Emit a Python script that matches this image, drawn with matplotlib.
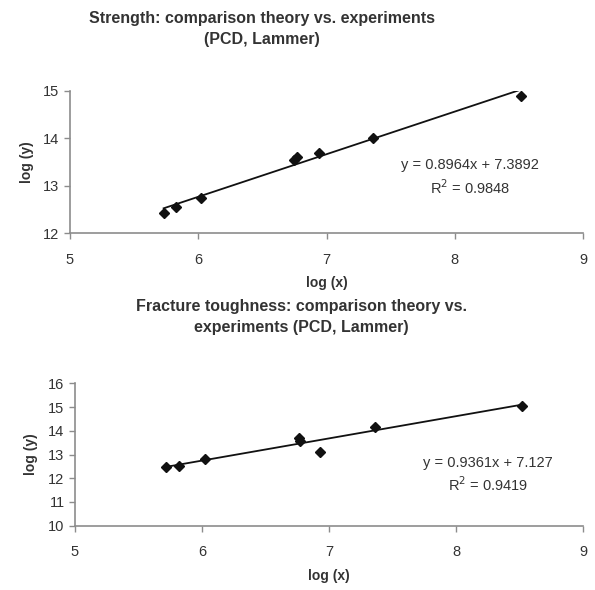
import numpy as np
import matplotlib
matplotlib.use("Agg")
import matplotlib.pyplot as plt

plt.rcParams['font.family'] = ['Liberation Sans', 'DejaVu Sans']

# strength data (log-log)
strength_x = [5.73, 5.83, 6.02, 6.75, 6.77, 6.94, 7.36, 8.52]
strength_y = [12.42, 12.56, 12.75, 13.55, 13.60, 13.68, 14.01, 14.88]
strength_fit = (0.8964, 7.3892)
strength_r2 = 0.9848

# fracture toughness data (log-log)
tough_x = [5.72, 5.82, 6.02, 6.76, 6.77, 6.93, 7.36, 8.52]
tough_y = [12.48, 12.51, 12.81, 13.68, 13.56, 13.11, 14.17, 15.05]
tough_fit = (0.9361, 7.127)
tough_r2 = 0.9419

W, H = 595, 590
fig = plt.figure(figsize=(W / 100, H / 100), dpi=100)

gray = '#8c8c8c'
txt = '#333333'


def px_axes(l, t, r, b):
    return fig.add_axes([l / W, 1 - b / H, (r - l) / W, (b - t) / H])


def style(ax, ylim, yticks):
    ax.set_xlim(5, 9)
    ax.set_ylim(*ylim)
    ax.set_xticks([5, 6, 7, 8, 9])
    ax.set_yticks(yticks)
    for s in ['top', 'right']:
        ax.spines[s].set_visible(False)
    for s in ['left', 'bottom']:
        ax.spines[s].set_color(gray)
        ax.spines[s].set_linewidth(1.2)
    ax.tick_params(direction='out', length=4, width=1, color=gray,
                   labelsize=10.5, labelcolor=txt)
    ax.tick_params(axis='x', pad=10)
    ax.set_facecolor('none')


def draw(ax, x, y, fit, r2, eq_pos):
    m, c = fit
    xs = np.array([min(x), max(x)])
    ax.plot(xs, m * xs + c, color='#111111', lw=1.3)
    ax.plot(x, y, 'D', color='#111111', ms=5.5)
    ax.text(eq_pos[0], eq_pos[1], f'y = {m}x + {c}', ha='center', va='center',
            fontsize=10.5, color=txt, transform=ax.transData)
    ax.text(eq_pos[0], eq_pos[1] - eq_pos[2], f'R$^2$ = {r2}', ha='center',
            va='center', fontsize=10.5, color=txt, transform=ax.transData)


ax1 = px_axes(70, 90.7, 583, 233.3)
style(ax1, (12, 15), [12, 13, 14, 15])
draw(ax1, strength_x, strength_y, strength_fit, strength_r2, (8.12, 13.44, 0.49))
ax1.set_xlabel('log (x)', fontsize=10, fontweight='bold', color=txt, labelpad=7)
ax1.set_ylabel('log (y)', fontsize=10, fontweight='bold', color=txt, labelpad=7)

ax2 = px_axes(75, 383.3, 583.3, 525.7)
style(ax2, (10, 16), [10, 11, 12, 13, 14, 15, 16])
draw(ax2, tough_x, tough_y, tough_fit, tough_r2, (8.25, 12.64, 0.89))
ax2.set_xlabel('log (x)', fontsize=10, fontweight='bold', color=txt, labelpad=7)
ax2.set_ylabel('log (y)', fontsize=10, fontweight='bold', color=txt, labelpad=7)

fig.text(262 / W, 1 - 29 / H, 'Strength: comparison theory vs. experiments\n(PCD, Lammer)',
         ha='center', va='center', fontsize=11.5, fontweight='bold', color=txt,
         linespacing=1.55)
fig.text(301 / W, 1 - 317 / H, 'Fracture toughness: comparison theory vs.\nexperiments (PCD, Lammer)',
         ha='center', va='center', fontsize=11.5, fontweight='bold', color=txt,
         linespacing=1.55)

fig.savefig('out.png', dpi=100, facecolor='white')
